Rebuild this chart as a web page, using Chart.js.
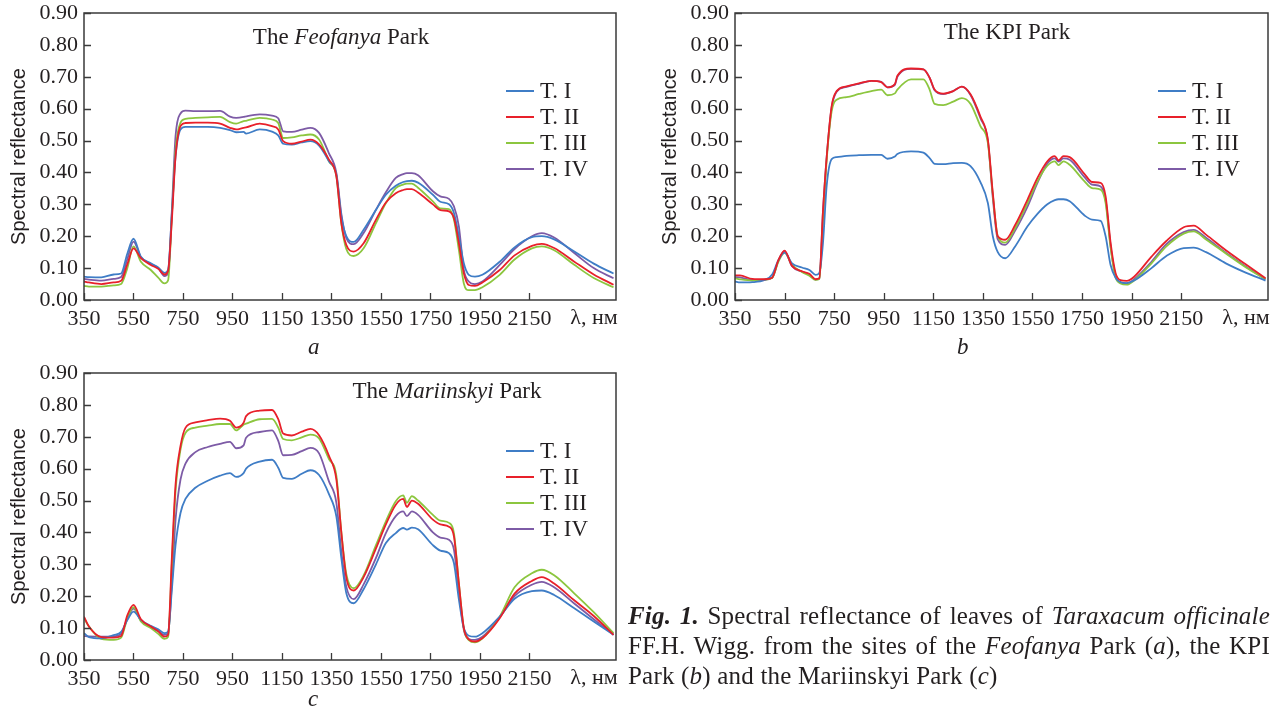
<!DOCTYPE html>
<html>
<head>
<meta charset="utf-8">
<script src="https://cdn.jsdelivr.net/npm/chart.js@4/dist/chart.umd.min.js"></script>
<style>
  body { margin: 0; background: #fff; width: 1279px; height: 710px; overflow: hidden; position: relative; font-family: "Liberation Serif", serif; color: #231f20; }
  .box { position: absolute; }
  .cap { position: absolute; font-style: italic; font-size: 23px; line-height: 26px; }
  #fig { position: absolute; left: 628px; top: 601px; width: 642px; font-size: 25px; line-height: 30px; letter-spacing: 0.2px; white-space: nowrap; }
  #fig .j { text-align: justify; text-align-last: justify; }
</style>
</head>
<body>
<div class="box" style="left:0;top:0"><canvas id="chartA" width="630" height="340"></canvas></div>
<div class="box" style="left:651px;top:0"><canvas id="chartB" width="628" height="340"></canvas></div>
<div class="box" style="left:0;top:360px"><canvas id="chartC" width="630" height="340"></canvas></div>
<div class="cap" style="left:308px;top:334px">a</div>
<div class="cap" style="left:957px;top:334px">b</div>
<div class="cap" style="left:308px;top:686px">c</div>
<div id="fig">
  <div class="j"><b><i>Fig. 1.</i></b> Spectral reflectance of leaves of <i>Taraxacum officinale</i></div>
  <div class="j">FF.H. Wigg. from the sites of the <i>Feofanya</i> Park (<i>a</i>), the KPI</div>
  <div>Park (<i>b</i>) and the Mariinskyi Park (<i>c</i>)</div>
</div>
<script>
const wavelengths = [350, 370, 420, 470, 500, 525, 550, 580, 620, 650, 675, 690, 705, 720, 740, 760, 800, 850, 900, 940,
  965, 995, 1005, 1060, 1110, 1135, 1155, 1190, 1230, 1265, 1300, 1340, 1370, 1390, 1410, 1440, 1480, 1530, 1570, 1610,
  1640, 1655, 1675, 1700, 1760, 1790, 1825, 1845, 1865, 1885, 1905, 1930, 1960, 2030, 2090, 2160, 2200, 2250, 2330, 2410, 2490];
const xTicks = [350, 550, 750, 950, 1150, 1350, 1550, 1750, 1950, 2150];
const yTicks = [0, 0.1, 0.2, 0.3, 0.4, 0.5, 0.6, 0.7, 0.8, 0.9];
const seriesNames = ['T. I', 'T. II', 'T. III', 'T. IV'];
const seriesColors = ['#3f7dc6', '#e8202a', '#8cc63f', '#7d5ba6'];

// The Feofanya Park (a)
const feofanyaT1 = [0.073, 0.072, 0.071, 0.080, 0.083, 0.145, 0.192, 0.136, 0.115, 0.102, 0.085, 0.095, 0.27, 0.45, 0.535,
  0.543, 0.543, 0.543, 0.540, 0.533, 0.526, 0.527, 0.522, 0.535, 0.528, 0.516, 0.490, 0.487, 0.494, 0.498,
  0.484, 0.435, 0.393, 0.262, 0.20, 0.182, 0.22, 0.283, 0.33, 0.358, 0.370, 0.373, 0.374, 0.368, 0.33,
  0.308, 0.300, 0.273, 0.20, 0.115, 0.079, 0.073, 0.079, 0.12, 0.165, 0.197, 0.200, 0.190, 0.153, 0.114, 0.083];
const feofanyaT2 = [0.058, 0.055, 0.050, 0.055, 0.060, 0.112, 0.162, 0.131, 0.110, 0.098, 0.080, 0.092, 0.25, 0.45, 0.545,
  0.555, 0.556, 0.556, 0.553, 0.540, 0.535, 0.540, 0.541, 0.553, 0.545, 0.535, 0.498, 0.490, 0.497, 0.503,
  0.488, 0.44, 0.388, 0.241, 0.173, 0.152, 0.178, 0.252, 0.306, 0.335, 0.345, 0.348, 0.348, 0.337, 0.30,
  0.282, 0.278, 0.257, 0.178, 0.084, 0.047, 0.044, 0.055, 0.094, 0.140, 0.170, 0.176, 0.163, 0.121, 0.080, 0.048];
const feofanyaT3 = [0.044, 0.042, 0.042, 0.046, 0.050, 0.100, 0.168, 0.120, 0.094, 0.070, 0.052, 0.062, 0.26, 0.47, 0.556,
  0.568, 0.571, 0.573, 0.574, 0.558, 0.553, 0.561, 0.562, 0.571, 0.566, 0.555, 0.508, 0.510, 0.516, 0.519,
  0.503, 0.435, 0.388, 0.24, 0.160, 0.138, 0.162, 0.241, 0.304, 0.351, 0.362, 0.365, 0.365, 0.352, 0.309,
  0.287, 0.285, 0.252, 0.157, 0.052, 0.031, 0.031, 0.040, 0.079, 0.127, 0.162, 0.168, 0.156, 0.111, 0.069, 0.040];
const feofanyaT4 = [0.066, 0.064, 0.061, 0.066, 0.072, 0.128, 0.183, 0.134, 0.113, 0.100, 0.075, 0.085, 0.28, 0.514, 0.585,
  0.594, 0.592, 0.592, 0.593, 0.575, 0.571, 0.574, 0.576, 0.582, 0.578, 0.570, 0.529, 0.527, 0.534, 0.540,
  0.524, 0.46, 0.398, 0.27, 0.195, 0.175, 0.21, 0.283, 0.338, 0.383, 0.395, 0.398, 0.398, 0.391, 0.341,
  0.325, 0.317, 0.294, 0.231, 0.094, 0.058, 0.050, 0.058, 0.110, 0.160, 0.200, 0.210, 0.196, 0.148, 0.100, 0.068];

// The KPI Park (b)
const kpiT1 = [0.058, 0.055, 0.056, 0.063, 0.080, 0.125, 0.149, 0.115, 0.102, 0.094, 0.079, 0.085, 0.18, 0.36, 0.442,
  0.448, 0.452, 0.454, 0.455, 0.455, 0.443, 0.450, 0.458, 0.466, 0.462, 0.445, 0.427, 0.426, 0.429, 0.430,
  0.42, 0.37, 0.304, 0.20, 0.150, 0.131, 0.168, 0.231, 0.27, 0.30, 0.313, 0.316, 0.316, 0.31, 0.265,
  0.252, 0.248, 0.20, 0.11, 0.07, 0.056, 0.053, 0.061, 0.100, 0.138, 0.163, 0.164, 0.150, 0.115, 0.086, 0.061];
const kpiT2 = [0.077, 0.077, 0.066, 0.065, 0.070, 0.125, 0.155, 0.107, 0.090, 0.082, 0.065, 0.068, 0.28, 0.45, 0.608,
  0.655, 0.670, 0.679, 0.687, 0.683, 0.667, 0.677, 0.703, 0.726, 0.723, 0.697, 0.660, 0.647, 0.655, 0.669,
  0.645, 0.575, 0.503, 0.335, 0.20, 0.189, 0.235, 0.315, 0.383, 0.435, 0.451, 0.438, 0.451, 0.448, 0.395,
  0.370, 0.367, 0.325, 0.18, 0.085, 0.062, 0.060, 0.073, 0.136, 0.185, 0.228, 0.233, 0.205, 0.156, 0.112, 0.068];
const kpiT3 = [0.068, 0.065, 0.061, 0.064, 0.070, 0.120, 0.149, 0.110, 0.088, 0.076, 0.063, 0.066, 0.25, 0.44, 0.592,
  0.628, 0.636, 0.646, 0.655, 0.660, 0.642, 0.648, 0.660, 0.692, 0.692, 0.660, 0.615, 0.611, 0.622, 0.633,
  0.615, 0.545, 0.493, 0.33, 0.20, 0.18, 0.225, 0.304, 0.372, 0.421, 0.435, 0.423, 0.435, 0.424, 0.372,
  0.351, 0.346, 0.304, 0.165, 0.072, 0.052, 0.048, 0.061, 0.115, 0.168, 0.208, 0.215, 0.190, 0.146, 0.103, 0.065];
const kpiT4 = [0.072, 0.071, 0.063, 0.064, 0.070, 0.123, 0.153, 0.106, 0.089, 0.080, 0.064, 0.067, 0.28, 0.45, 0.605,
  0.653, 0.668, 0.678, 0.687, 0.684, 0.667, 0.675, 0.700, 0.725, 0.723, 0.697, 0.658, 0.646, 0.655, 0.669,
  0.643, 0.57, 0.50, 0.32, 0.19, 0.173, 0.218, 0.293, 0.367, 0.428, 0.444, 0.434, 0.444, 0.44, 0.385,
  0.362, 0.356, 0.314, 0.17, 0.075, 0.055, 0.052, 0.065, 0.12, 0.175, 0.213, 0.22, 0.195, 0.148, 0.105, 0.065];

// The Mariinskyi Park (c)
const mariinskyiT1 = [0.084, 0.072, 0.068, 0.078, 0.088, 0.125, 0.152, 0.126, 0.107, 0.096, 0.084, 0.089, 0.22, 0.36, 0.461,
  0.505, 0.540, 0.562, 0.578, 0.586, 0.574, 0.586, 0.600, 0.622, 0.628, 0.603, 0.571, 0.568, 0.584, 0.595,
  0.580, 0.52, 0.45, 0.32, 0.21, 0.178, 0.222, 0.30, 0.367, 0.398, 0.414, 0.409, 0.415, 0.41, 0.36,
  0.343, 0.335, 0.304, 0.19, 0.10, 0.076, 0.073, 0.084, 0.136, 0.192, 0.216, 0.218, 0.204, 0.163, 0.121, 0.079];
const mariinskyiT2 = [0.136, 0.105, 0.072, 0.070, 0.075, 0.14, 0.173, 0.128, 0.105, 0.09, 0.073, 0.079, 0.32, 0.55, 0.671,
  0.728, 0.745, 0.752, 0.757, 0.750, 0.729, 0.744, 0.765, 0.782, 0.784, 0.755, 0.710, 0.704, 0.716, 0.725,
  0.705, 0.64, 0.566, 0.40, 0.26, 0.218, 0.26, 0.35, 0.425, 0.487, 0.505, 0.48, 0.50, 0.49, 0.44,
  0.425, 0.418, 0.388, 0.24, 0.10, 0.065, 0.058, 0.068, 0.131, 0.208, 0.248, 0.26, 0.24, 0.188, 0.138, 0.079];
const mariinskyiT3 = [0.131, 0.105, 0.066, 0.063, 0.070, 0.13, 0.166, 0.121, 0.10, 0.082, 0.066, 0.073, 0.30, 0.53, 0.66,
  0.712, 0.729, 0.735, 0.740, 0.740, 0.72, 0.738, 0.741, 0.755, 0.756, 0.729, 0.693, 0.689, 0.698, 0.707,
  0.695, 0.63, 0.577, 0.40, 0.27, 0.225, 0.265, 0.36, 0.435, 0.498, 0.516, 0.493, 0.514, 0.50, 0.455,
  0.437, 0.43, 0.398, 0.24, 0.10, 0.062, 0.055, 0.068, 0.136, 0.228, 0.272, 0.283, 0.266, 0.21, 0.15, 0.084];
const mariinskyiT4 = [0.075, 0.074, 0.073, 0.074, 0.082, 0.13, 0.161, 0.124, 0.103, 0.09, 0.079, 0.084, 0.24, 0.44, 0.566,
  0.616, 0.652, 0.668, 0.678, 0.684, 0.664, 0.673, 0.697, 0.715, 0.72, 0.687, 0.642, 0.643, 0.655, 0.665,
  0.648, 0.56, 0.493, 0.34, 0.23, 0.191, 0.237, 0.32, 0.398, 0.451, 0.466, 0.451, 0.466, 0.455, 0.40,
  0.384, 0.377, 0.346, 0.215, 0.095, 0.066, 0.063, 0.073, 0.134, 0.20, 0.236, 0.245, 0.228, 0.178, 0.128, 0.079];

const serif = 'Liberation Serif';
const ink = '#231f20';

function makeChart(id, series, titleParts, titleDx, titleDy, padRight) {
  // T. II on top, T. IV at the bottom
  const drawOrder = [1, 0, 2, 3];
  const datasets = drawOrder.map(k => ({
    label: seriesNames[k],
    data: wavelengths.map((w, i) => ({ x: w, y: series[k][i] })),
    borderColor: seriesColors[k],
    borderWidth: 1.8,
    pointRadius: 0,
    cubicInterpolationMode: 'monotone',
    fill: false
  }));

  const deco = {
    id: 'deco',
    afterDraw(chart) {
      const ctx = chart.ctx;
      const a = chart.chartArea;
      const xs = chart.scales.x, ys = chart.scales.y;
      ctx.save();
      // frame
      ctx.strokeStyle = '#3a3a3a';
      ctx.lineWidth = 1.5;
      ctx.strokeRect(a.left, a.top, a.right - a.left, a.bottom - a.top);
      // inward tick marks
      ctx.lineWidth = 1.3;
      ctx.beginPath();
      xTicks.forEach(v => {
        const px = Math.round(xs.getPixelForValue(v)) + 0.5;
        ctx.moveTo(px, a.bottom);
        ctx.lineTo(px, a.bottom - 7);
      });
      yTicks.forEach(v => {
        const py = Math.round(ys.getPixelForValue(v)) + 0.5;
        ctx.moveTo(a.left, py);
        ctx.lineTo(a.left + 7, py);
      });
      ctx.stroke();
      // axis unit
      ctx.fillStyle = ink;
      ctx.font = '22px "' + serif + '"';
      ctx.textAlign = 'center';
      ctx.textBaseline = 'middle';
      ctx.fillText('λ, нм', a.right - 22, a.bottom + 18);
      // title
      ctx.textAlign = 'left';
      let total = 0;
      titleParts.forEach(p => {
        ctx.font = (p.italic ? 'italic ' : '') + '23px "' + serif + '"';
        total += ctx.measureText(p.text).width;
      });
      let tx = a.left + titleDx - total / 2;
      titleParts.forEach(p => {
        ctx.font = (p.italic ? 'italic ' : '') + '23px "' + serif + '"';
        ctx.fillText(p.text, tx, a.top + titleDy);
        tx += ctx.measureText(p.text).width;
      });
      // legend
      ctx.font = '23px "' + serif + '"';
      ctx.lineWidth = 2;
      seriesNames.forEach((name, i) => {
        const y = a.top + 78 + i * 26;
        ctx.strokeStyle = seriesColors[i];
        ctx.beginPath();
        ctx.moveTo(a.right - 110, y);
        ctx.lineTo(a.right - 82, y);
        ctx.stroke();
        ctx.fillText(name, a.right - 76, y + 1);
      });
      ctx.restore();
    }
  };

  return new Chart(document.getElementById(id), {
    type: 'line',
    data: { datasets: datasets },
    options: {
      responsive: false,
      animation: false,
      layout: { padding: { top: 13, right: padRight, left: 0, bottom: 10 } },
      plugins: { legend: { display: false }, tooltip: { enabled: false } },
      scales: {
        x: {
          type: 'linear', min: 350, max: 2500,
          grid: { display: false, drawTicks: false }, border: { display: false },
          afterBuildTicks: s => { s.ticks = xTicks.map(v => ({ value: v })); },
          afterFit: s => { s.height = 30; s.paddingLeft = 0; s.paddingRight = 0; },
          ticks: { font: { family: serif, size: 22 }, color: ink, padding: 6, maxRotation: 0, autoSkip: false,
                   callback: v => String(v) }
        },
        y: {
          min: 0, max: 0.9,
          grid: { display: false, drawTicks: false }, border: { display: false },
          afterBuildTicks: s => { s.ticks = yTicks.map(v => ({ value: v })); },
          afterFit: s => { s.width = 84; s.paddingTop = 0; s.paddingBottom = 0; },
          ticks: { font: { family: serif, size: 22 }, color: ink, padding: 6, callback: v => v.toFixed(2) },
          title: {
            display: true, text: 'Spectral reflectance', color: ink,
            font: { family: 'Liberation Sans', size: 20 }, padding: { top: 7, bottom: 0 }
          }
        }
      }
    },
    plugins: [deco]
  });
}

makeChart('chartA', [feofanyaT1, feofanyaT2, feofanyaT3, feofanyaT4],
  [{ text: 'The ' }, { text: 'Feofanya', italic: true }, { text: ' Park' }], 257, 25, 14);
makeChart('chartB', [kpiT1, kpiT2, kpiT3, kpiT4],
  [{ text: 'The KPI Park' }], 272, 20, 11);
makeChart('chartC', [mariinskyiT1, mariinskyiT2, mariinskyiT3, mariinskyiT4],
  [{ text: 'The ' }, { text: 'Mariinskyi', italic: true }, { text: ' Park' }], 363, 19, 14);
</script>
</body>
</html>
